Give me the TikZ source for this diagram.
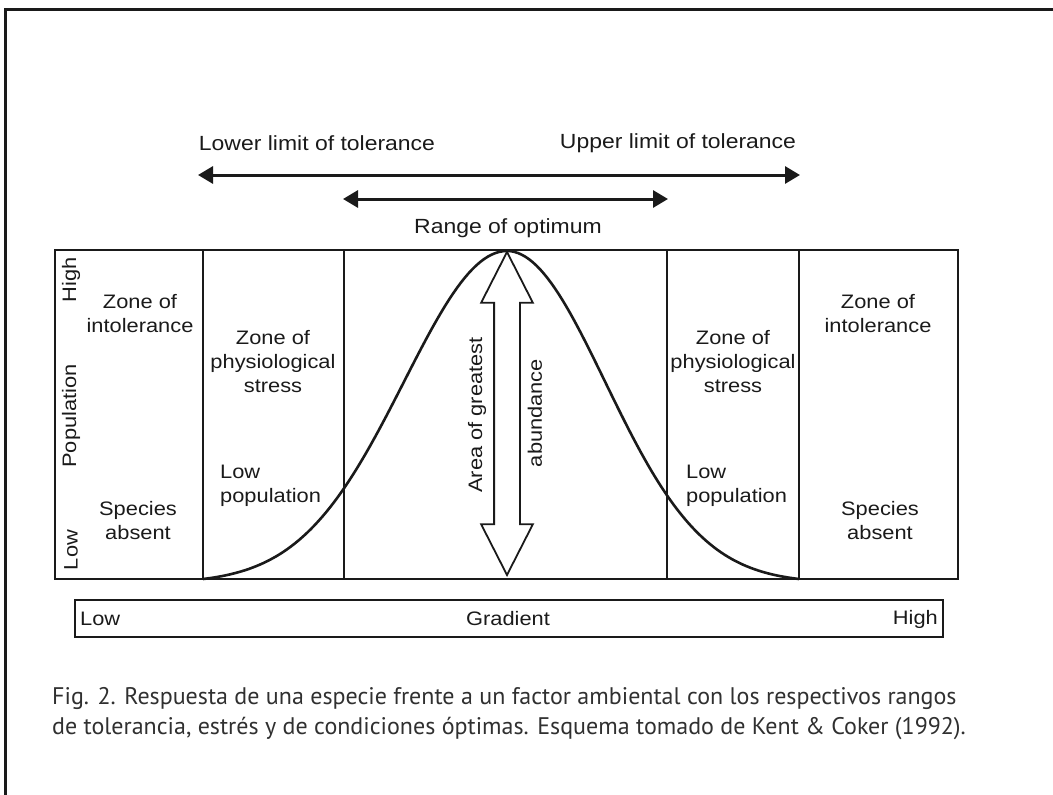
\documentclass[tikz,border=0pt]{standalone}
\usepackage{fontspec}
\setmainfont{Liberation Sans}[FakeStretch=1.12]
\newfontfamily\capfont{PT Sans}
\usetikzlibrary{arrows.meta,shapes.arrows}
\definecolor{ink}{HTML}{1A1A1A}
\definecolor{captext}{HTML}{303030}
\tikzset{
  zone/.style={align=center, font=\fontsize{19.5}{24}\selectfont, text=ink, inner sep=0pt},
  lowpop/.style={zone, align=left, anchor=west},
  axislab/.style={rotate=90, font=\fontsize{19.5}{22}\selectfont, text=ink, inner sep=0pt},
  limit/.style={font=\fontsize{20.5}{24}\selectfont, text=ink, inner sep=0pt},
  rangearrow/.style={line width=3pt, draw=ink, {Triangle[length=15pt,width=17pt]}-{Triangle[length=15pt,width=17pt]}},
  bell/.style={line width=2.6pt, draw=ink},
  panel/.style={line width=1.6pt, draw=ink},
}
\begin{document}
\begin{tikzpicture}[x=1pt,y=-1pt]
\useasboundingbox (0,0) rectangle (1053,795);
% outer frame (open at right and bottom)
\draw[line width=3pt, draw=ink] (1053,9) -- (5,9) -- (5,795);
% tolerance and optimum ranges
\node[limit] (lowlim) at (317,143) {Lower limit of tolerance};
\node[limit] (uplim)  at (678,143) {Upper limit of tolerance};
\node[limit] (optim)  at (508,228) {Range of optimum};
\coordinate (tolL) at (198,175);
\coordinate (tolR) at (800,175);
\coordinate (optL) at (343,199);
\coordinate (optR) at (668,199);
\draw[rangearrow] (tolL) -- (tolR);
\draw[rangearrow] (optL) -- (optR);
% panel with zones
\draw[panel] (55,250) rectangle (958,579);
\foreach \x in {203,344,667,799}
{	\draw[panel] (\x,250) -- (\x,579);
}
% response curve
\draw[bell] plot[domain=203:507, samples=80] (\x, {579-328*(exp(-0.5*((\x-507)/103)^2)-0.0129)/0.9871});
\draw[bell] plot[domain=507:799, samples=80] (\x, {579-328*(exp(-0.5*((\x-507)/98)^2)-0.0118)/0.9882});
% population axis
\node[axislab] (popH) at (71,280) {High};
\node[axislab] (popM) at (71,416) {Population};
\node[axislab] (popL) at (71,550) {Low};
% zone labels
\def\zones {zinL/140/314/{Zone of\\intolerance}, zinR/878/314/{Zone of\\intolerance}, zstL/273/362/{Zone of\\physiological\\stress}, zstR/733/362/{Zone of\\physiological\\stress}, absL/138/521/{Species\\absent}, absR/880/521/{Species\\absent}}  % zone texts
\foreach \n/\x/\y/\t in \zones
{	\node[zone] (\n) at (\x,\y) {\t};
}
\node[lowpop] (lpL) at (220,486) {Low\\population};
\node[lowpop] (lpR) at (686,486) {Low\\population};
% area of greatest abundance
\node[draw=ink, line width=1.8pt, shape=double arrow, rotate=90, minimum height=323pt, inner xsep=0pt, inner ysep=12pt, double arrow head extend=13pt, double arrow tip angle=54] (abund) at (507,413.5) {};
\node[axislab] (abundL) at (477,415) {Area of greatest};
\node[axislab] (abundR) at (535,413) {abundance};
% gradient bar
\draw[line width=2pt, draw=ink] (75,600) rectangle (943,637);
\node[zone, anchor=west] (gradL) at (80,619) {Low};
\node[zone] (grad) at (508,619) {Gradient};
\node[zone, anchor=east] (gradH) at (938,619) {High};
% caption
\node[anchor=north west, align=left, inner sep=0pt, text=captext, font=\capfont\fontsize{24}{30}\selectfont] (caption) at (52,687)
  {Fig. 2. Respuesta de una especie frente a un factor ambiental con los respectivos rangos\\de tolerancia, estrés y de condiciones óptimas. Esquema tomado de Kent \& Coker (1992).};
\end{tikzpicture}
\end{document}
